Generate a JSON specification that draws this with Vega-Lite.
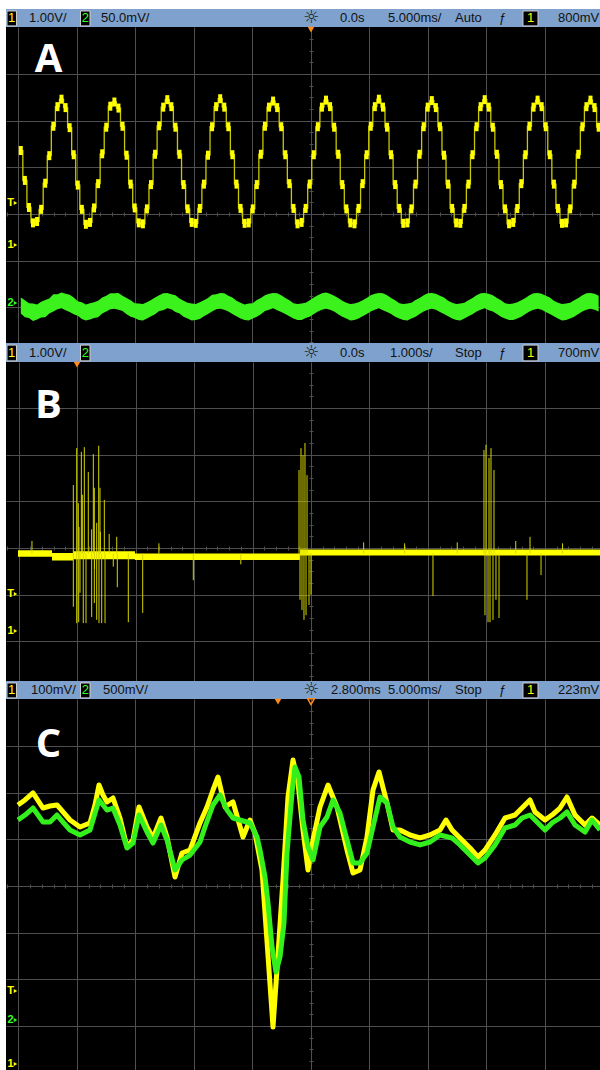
{
"$schema": "https://vega.github.io/schema/vega-lite/v6.json",
"background": "#ffffff",
"padding": {"left": 6, "top": 9, "right": 0, "bottom": 0},
"spacing": 0,
"bounds": "flush",
"config": {
  "view": {"stroke": null},
  "concat": {"spacing": 0},
  "font": "Liberation Sans",
  "axis": {"title": null, "labels": false, "ticks": false, "domain": false, "grid": false, "gridColor": "#4f4f4f", "tickColor": "#4f4f4f", "gridWidth": 1}
},
"datasets": {
  "hdr": [
    {"p":"A","x":0.188,"s":"1.00V/"},{"p":"A","x":1.419,"s":"50.0mV/"},{"p":"A","x":5.504,"s":"0.0s"},{"p":"A","x":6.325,"s":"5.000ms/"},{"p":"A","x":7.470,"s":"Auto"},{"p":"A","x":8.222,"s":"ƒ"},{"p":"A","x":9.231,"s":"800mV"},
    {"p":"B","x":0.188,"s":"1.00V/"},{"p":"B","x":5.504,"s":"0.0s"},{"p":"B","x":6.359,"s":"1.000s/"},{"p":"B","x":7.470,"s":"Stop"},{"p":"B","x":8.222,"s":"ƒ"},{"p":"B","x":9.231,"s":"700mV"},
    {"p":"C","x":0.222,"s":"100mV/"},{"p":"C","x":1.453,"s":"500mV/"},{"p":"C","x":5.35,"s":"2.800ms"},{"p":"C","x":6.325,"s":"5.000ms/"},{"p":"C","x":7.470,"s":"Stop"},{"p":"C","x":8.222,"s":"ƒ"},{"p":"C","x":9.231,"s":"223mV"}
  ],
  "box": [{"x1":-0.188,"x2":-0.026,"y1":0.06,"y2":0.89},{"x1":1.068,"x2":1.231,"y1":0.06,"y2":0.89},{"x1":8.632,"x2":8.889,"y1":0.06,"y2":0.89}],
  "hdig": [{"x":-0.107,"s":"1","c":"y"},{"x":1.150,"s":"2","c":"g"},{"x":8.761,"s":"1","c":"y"}],
  "hsun": [{"x":5.009,"s":"☼"}],
  "lbl": [{"p":"A","t":-22.436,"y":3.043,"s":"A"},{"p":"B","t":-4.487,"y":2.786,"s":"B"},{"p":"C","t":-19.636,"y":2.764,"s":"C"}],
  "mk": [
    {"p":"A","t":-25.684,"tt":-25.256,"y":0.236,"s":"T","c":"y"},{"p":"A","t":-25.684,"tt":-25.256,"y":-0.664,"s":"1","c":"y"},{"p":"A","t":-25.684,"tt":-25.256,"y":-1.907,"s":"2","c":"g"},
    {"p":"B","t":-5.137,"tt":-5.051,"y":-0.986,"s":"T","c":"y"},{"p":"B","t":-5.137,"tt":-5.051,"y":-1.778,"s":"1","c":"y"},
    {"p":"C","t":-22.884,"tt":-22.456,"y":-2.250,"s":"T","c":"y"},{"p":"C","t":-22.884,"tt":-22.456,"y":-2.871,"s":"2","c":"g"},{"p":"C","t":-22.884,"tt":-22.456,"y":-3.814,"s":"1","c":"y"}
  ],
  "trig": [{"p":"A","t":0,"y":3.95,"f":"y"},{"p":"B","t":-4.0,"y":3.93,"f":"y"},{"p":"C","t":-0.02,"y":3.95,"f":"y"},{"p":"C","t":2.8,"y":3.95,"f":"n"}],
  "a": [
    {"t":-24.803,"y1":1.36,"l2":-2.13,"h2":-1.79},{"t":-24.455,"y1":0.72,"l2":-2.21,"h2":-1.85},{"t":-24.107,"y1":0.14,"l2":-2.23,"h2":-1.91},{"t":-23.759,"y1":-0.19,"l2":-2.29,"h2":-1.92},{"t":-23.411,"y1":-0.16,"l2":-2.26,"h2":-1.94},{"t":-23.064,"y1":0.10,"l2":-2.22,"h2":-1.88},{"t":-22.716,"y1":0.66,"l2":-2.21,"h2":-1.84},{"t":-22.368,"y1":1.25,"l2":-2.13,"h2":-1.81},{"t":-22.020,"y1":1.88,"l2":-2.09,"h2":-1.72},{"t":-21.672,"y1":2.30,"l2":-2.04,"h2":-1.72},
    {"t":-21.325,"y1":2.46,"l2":-2.02,"h2":-1.68},{"t":-20.977,"y1":2.28,"l2":-2.06,"h2":-1.71},{"t":-20.629,"y1":1.85,"l2":-2.10,"h2":-1.73},{"t":-20.282,"y1":1.27,"l2":-2.15,"h2":-1.79},{"t":-19.934,"y1":0.62,"l2":-2.18,"h2":-1.87},{"t":-19.586,"y1":0.10,"l2":-2.25,"h2":-1.89},{"t":-19.238,"y1":-0.22,"l2":-2.28,"h2":-1.94},{"t":-18.890,"y1":-0.18,"l2":-2.26,"h2":-1.91},{"t":-18.543,"y1":0.13,"l2":-2.23,"h2":-1.89},{"t":-18.195,"y1":0.65,"l2":-2.21,"h2":-1.86},{"t":-17.847,"y1":1.29,"l2":-2.13,"h2":-1.79},{"t":-17.499,"y1":1.86,"l2":-2.09,"h2":-1.75},{"t":-17.151,"y1":2.31,"l2":-2.04,"h2":-1.70},
    {"t":-16.804,"y1":2.40,"l2":-2.03,"h2":-1.70},{"t":-16.456,"y1":2.27,"l2":-2.05,"h2":-1.69},{"t":-16.108,"y1":1.88,"l2":-2.08,"h2":-1.75},{"t":-15.761,"y1":1.26,"l2":-2.15,"h2":-1.80},{"t":-15.413,"y1":0.64,"l2":-2.20,"h2":-1.85},{"t":-15.065,"y1":0.13,"l2":-2.23,"h2":-1.91},{"t":-14.717,"y1":-0.19,"l2":-2.27,"h2":-1.92},{"t":-14.369,"y1":-0.21,"l2":-2.28,"h2":-1.93},{"t":-14.022,"y1":0.11,"l2":-2.24,"h2":-1.89},{"t":-13.674,"y1":0.63,"l2":-2.19,"h2":-1.84},{"t":-13.326,"y1":1.28,"l2":-2.15,"h2":-1.79},{"t":-12.978,"y1":1.89,"l2":-2.08,"h2":-1.74},{"t":-12.630,"y1":2.29,"l2":-2.06,"h2":-1.70},
    {"t":-12.282,"y1":2.45,"l2":-2.02,"h2":-1.69},{"t":-11.934,"y1":2.30,"l2":-2.04,"h2":-1.72},{"t":-11.586,"y1":1.86,"l2":-2.10,"h2":-1.74},{"t":-11.239,"y1":1.28,"l2":-2.13,"h2":-1.81},{"t":-10.891,"y1":0.63,"l2":-2.20,"h2":-1.86},{"t":-10.543,"y1":0.11,"l2":-2.24,"h2":-1.90},{"t":-10.195,"y1":-0.18,"l2":-2.28,"h2":-1.92},{"t":-9.847,"y1":-0.20,"l2":-2.27,"h2":-1.93},{"t":-9.500,"y1":0.12,"l2":-2.25,"h2":-1.89},{"t":-9.152,"y1":0.64,"l2":-2.19,"h2":-1.85},{"t":-8.804,"y1":1.26,"l2":-2.14,"h2":-1.80},{"t":-8.456,"y1":1.87,"l2":-2.09,"h2":-1.73},{"t":-8.108,"y1":2.30,"l2":-2.04,"h2":-1.72},
    {"t":-7.761,"y1":2.47,"l2":-2.03,"h2":-1.69},{"t":-7.413,"y1":2.29,"l2":-2.05,"h2":-1.70},{"t":-7.065,"y1":1.87,"l2":-2.09,"h2":-1.75},{"t":-6.718,"y1":1.27,"l2":-2.14,"h2":-1.79},{"t":-6.370,"y1":0.64,"l2":-2.19,"h2":-1.86},{"t":-6.022,"y1":0.12,"l2":-2.24,"h2":-1.90},{"t":-5.674,"y1":-0.20,"l2":-2.27,"h2":-1.94},{"t":-5.326,"y1":-0.19,"l2":-2.28,"h2":-1.92},{"t":-4.979,"y1":0.11,"l2":-2.24,"h2":-1.91},{"t":-4.631,"y1":0.63,"l2":-2.20,"h2":-1.84},{"t":-4.283,"y1":1.28,"l2":-2.15,"h2":-1.80},{"t":-3.935,"y1":1.88,"l2":-2.08,"h2":-1.74},{"t":-3.587,"y1":2.29,"l2":-2.05,"h2":-1.71},
    {"t":-3.239,"y1":2.42,"l2":-2.02,"h2":-1.69},{"t":-2.891,"y1":2.28,"l2":-2.06,"h2":-1.70},{"t":-2.543,"y1":1.87,"l2":-2.10,"h2":-1.74},{"t":-2.196,"y1":1.27,"l2":-2.14,"h2":-1.80},{"t":-1.848,"y1":0.65,"l2":-2.19,"h2":-1.85},{"t":-1.500,"y1":0.12,"l2":-2.24,"h2":-1.91},{"t":-1.152,"y1":-0.21,"l2":-2.27,"h2":-1.93},{"t":-0.804,"y1":-0.18,"l2":-2.27,"h2":-1.92},{"t":-0.457,"y1":0.12,"l2":-2.23,"h2":-1.90},{"t":-0.109,"y1":0.64,"l2":-2.20,"h2":-1.85},{"t":0.239,"y1":1.27,"l2":-2.14,"h2":-1.79},{"t":0.587,"y1":1.87,"l2":-2.09,"h2":-1.74},{"t":0.935,"y1":2.29,"l2":-2.05,"h2":-1.70},
    {"t":1.282,"y1":2.44,"l2":-2.03,"h2":-1.68},{"t":1.630,"y1":2.30,"l2":-2.05,"h2":-1.71},{"t":1.978,"y1":1.86,"l2":-2.09,"h2":-1.75},{"t":2.325,"y1":1.28,"l2":-2.15,"h2":-1.80},{"t":2.673,"y1":0.63,"l2":-2.20,"h2":-1.86},{"t":3.021,"y1":0.11,"l2":-2.24,"h2":-1.90},{"t":3.369,"y1":-0.19,"l2":-2.28,"h2":-1.93},{"t":3.717,"y1":-0.21,"l2":-2.27,"h2":-1.92},{"t":4.064,"y1":0.12,"l2":-2.24,"h2":-1.89},{"t":4.412,"y1":0.65,"l2":-2.19,"h2":-1.85},{"t":4.760,"y1":1.27,"l2":-2.14,"h2":-1.80},{"t":5.108,"y1":1.88,"l2":-2.09,"h2":-1.74},{"t":5.456,"y1":2.30,"l2":-2.05,"h2":-1.71},
    {"t":5.803,"y1":2.46,"l2":-2.02,"h2":-1.69},{"t":6.151,"y1":2.29,"l2":-2.06,"h2":-1.70},{"t":6.499,"y1":1.86,"l2":-2.10,"h2":-1.74},{"t":6.846,"y1":1.27,"l2":-2.14,"h2":-1.80},{"t":7.194,"y1":0.63,"l2":-2.20,"h2":-1.85},{"t":7.542,"y1":0.12,"l2":-2.24,"h2":-1.91},{"t":7.890,"y1":-0.20,"l2":-2.27,"h2":-1.93},{"t":8.238,"y1":-0.19,"l2":-2.28,"h2":-1.92},{"t":8.585,"y1":0.11,"l2":-2.24,"h2":-1.90},{"t":8.933,"y1":0.64,"l2":-2.20,"h2":-1.84},{"t":9.281,"y1":1.28,"l2":-2.14,"h2":-1.80},{"t":9.629,"y1":1.87,"l2":-2.09,"h2":-1.74},{"t":9.977,"y1":2.29,"l2":-2.05,"h2":-1.70},
    {"t":10.325,"y1":2.43,"l2":-2.03,"h2":-1.69},{"t":10.673,"y1":2.28,"l2":-2.05,"h2":-1.71},{"t":11.021,"y1":1.87,"l2":-2.10,"h2":-1.75},{"t":11.368,"y1":1.26,"l2":-2.14,"h2":-1.79},{"t":11.716,"y1":0.64,"l2":-2.19,"h2":-1.86},{"t":12.064,"y1":0.12,"l2":-2.24,"h2":-1.90},{"t":12.412,"y1":-0.19,"l2":-2.27,"h2":-1.93},{"t":12.760,"y1":-0.20,"l2":-2.28,"h2":-1.92},{"t":13.107,"y1":0.12,"l2":-2.24,"h2":-1.90},{"t":13.455,"y1":0.64,"l2":-2.19,"h2":-1.85},{"t":13.803,"y1":1.27,"l2":-2.15,"h2":-1.80},{"t":14.151,"y1":1.87,"l2":-2.09,"h2":-1.74},{"t":14.499,"y1":2.30,"l2":-2.05,"h2":-1.70},
    {"t":14.846,"y1":2.45,"l2":-2.02,"h2":-1.69},{"t":15.194,"y1":2.29,"l2":-2.06,"h2":-1.71},{"t":15.542,"y1":1.86,"l2":-2.09,"h2":-1.74},{"t":15.889,"y1":1.28,"l2":-2.14,"h2":-1.80},{"t":16.237,"y1":0.63,"l2":-2.20,"h2":-1.85},{"t":16.585,"y1":0.11,"l2":-2.24,"h2":-1.91},{"t":16.933,"y1":-0.21,"l2":-2.27,"h2":-1.93},{"t":17.281,"y1":-0.18,"l2":-2.27,"h2":-1.92},{"t":17.628,"y1":0.12,"l2":-2.24,"h2":-1.89},{"t":17.976,"y1":0.65,"l2":-2.20,"h2":-1.85},{"t":18.324,"y1":1.27,"l2":-2.14,"h2":-1.80},{"t":18.672,"y1":1.88,"l2":-2.09,"h2":-1.74},{"t":19.020,"y1":2.29,"l2":-2.05,"h2":-1.70},
    {"t":19.368,"y1":2.44,"l2":-2.03,"h2":-1.69},{"t":19.716,"y1":2.30,"l2":-2.05,"h2":-1.71},{"t":20.064,"y1":1.87,"l2":-2.10,"h2":-1.75},{"t":20.411,"y1":1.27,"l2":-2.14,"h2":-1.79},{"t":20.759,"y1":0.64,"l2":-2.19,"h2":-1.86},{"t":21.107,"y1":0.12,"l2":-2.24,"h2":-1.90},{"t":21.455,"y1":-0.20,"l2":-2.28,"h2":-1.93},{"t":21.803,"y1":-0.19,"l2":-2.27,"h2":-1.92},{"t":22.150,"y1":0.11,"l2":-2.24,"h2":-1.90},{"t":22.498,"y1":0.64,"l2":-2.20,"h2":-1.85},{"t":22.846,"y1":1.28,"l2":-2.14,"h2":-1.80},{"t":23.194,"y1":1.87,"l2":-2.09,"h2":-1.74},{"t":23.542,"y1":2.30,"l2":-2.05,"h2":-1.70},
    {"t":23.889,"y1":2.44,"l2":-2.03,"h2":-1.69},{"t":24.237,"y1":2.28,"l2":-2.05,"h2":-1.71},{"t":24.585,"y1":1.86,"l2":-2.09,"h2":-1.75}
  ],
  "bbase": [
    {"t":-5.009,"lo":-0.19,"hi":-0.05},{"t":-4.427,"lo":-0.27,"hi":-0.11},{"t":-4.068,"lo":-0.24,"hi":-0.07},{"t":-3.009,"lo":-0.26,"hi":-0.12},{"t":-0.188,"lo":-0.16,"hi":-0.03},{"t":4.940,"lo":-0.16,"hi":-0.03}
  ],
  "bsp": [
    {"t":-4.063,"tip":1.35},{"t":-4.005,"tip":2.14},{"t":-3.978,"tip":0.96},{"t":-3.926,"tip":2.06},{"t":-3.909,"tip":1.14},{"t":-3.875,"tip":2.16},{"t":-3.807,"tip":1.63},{"t":-3.721,"tip":2.01},{"t":-3.704,"tip":1.29},{"t":-3.629,"tip":2.19},{"t":-3.607,"tip":1.29},{"t":-3.533,"tip":1.03},{"t":-3.663,"tip":0.54},{"t":-3.966,"tip":0.45},{"t":-3.321,"tip":0.24},
    {"t":-4.063,"tip":-1.26},{"t":-4.005,"tip":-1.61},{"t":-3.971,"tip":-1.59},{"t":-3.949,"tip":-0.96},{"t":-3.893,"tip":-1.61},{"t":-3.846,"tip":-1.61},{"t":-3.749,"tip":-1.48},{"t":-3.704,"tip":-1.18},{"t":-3.663,"tip":-1.54},{"t":-3.624,"tip":-1.61},{"t":-3.578,"tip":-1.61},{"t":-3.521,"tip":-1.61},{"t":-3.311,"tip":-0.84},{"t":-3.123,"tip":-1.59},{"t":-2.877,"tip":-1.39},{"t":-2.012,"tip":-0.69},
    {"t":-3.75,"tip":0.40},{"t":-3.60,"tip":0.35},{"t":-3.45,"tip":0.30},{"t":-3.38,"tip":-0.40},{"t":-3.70,"tip":-0.45},
    {"t":-0.205,"tip":1.67},{"t":-0.171,"tip":2.14},{"t":-0.137,"tip":1.99},{"t":-0.103,"tip":2.25},{"t":-0.068,"tip":1.56},
    {"t":-0.188,"tip":-1.11},{"t":-0.154,"tip":-1.33},{"t":-0.120,"tip":-1.54},{"t":-0.085,"tip":-1.44},{"t":-0.034,"tip":-1.22},{"t":0.0,"tip":-1.00},
    {"t":2.957,"tip":2.10},{"t":2.991,"tip":2.21},{"t":3.043,"tip":1.93},{"t":3.077,"tip":2.14},{"t":3.128,"tip":1.67},
    {"t":2.974,"tip":-1.44},{"t":3.026,"tip":-1.59},{"t":3.060,"tip":-1.59},{"t":3.111,"tip":-1.54},{"t":3.162,"tip":-1.11},{"t":3.214,"tip":-1.50},
    {"t":2.085,"tip":-1.03},{"t":3.692,"tip":-1.11},{"t":3.744,"tip":0.24},{"t":3.932,"tip":-0.58},
    {"t":-4.77,"tip":0.15},{"t":-2.6,"tip":0.10},{"t":-1.2,"tip":-0.35},{"t":0.9,"tip":0.12},{"t":1.6,"tip":0.10},{"t":2.5,"tip":0.12},{"t":3.5,"tip":0.15},{"t":4.3,"tip":0.10}
  ],
  "c1": [
    {"t":-22.243,"v":1.736},{"t":-21.644,"v":1.843},{"t":-20.961,"v":1.993},{"t":-20.106,"v":1.671},{"t":-19.508,"v":1.714},{"t":-18.909,"v":1.736},{"t":-18.397,"v":1.586},{"t":-17.798,"v":1.414},{"t":-16.944,"v":1.264},{"t":-16.089,"v":1.350},{"t":-15.662,"v":1.736},{"t":-15.320,"v":2.164},{"t":-14.978,"v":1.950},{"t":-14.636,"v":1.800},{"t":-14.123,"v":1.886},{"t":-13.525,"v":1.457},{"t":-12.926,"v":0.836},{"t":-12.414,"v":0.986},{"t":-11.901,"v":1.693},{"t":-11.217,"v":1.264},{"t":-10.704,"v":1.029},{"t":-10.021,"v":1.457},{"t":-9.508,"v":1.050},{"t":-8.824,"v":0.193},{"t":-8.226,"v":0.707},{"t":-7.542,"v":0.771},{"t":-6.687,"v":1.350},{"t":-6.089,"v":1.693},{"t":-5.576,"v":2.057},{"t":-5.149,"v":2.336},{"t":-4.550,"v":1.693},{"t":-3.867,"v":1.800},{"t":-3.012,"v":1.050},{"t":-2.414,"v":1.414},{"t":-1.986,"v":1.136},{"t":-1.388,"v":0.343},{"t":-0.961,"v":-1.178},{"t":-0.704,"v":-2.100},{"t":-0.448,"v":-3.021},{"t":-0.021,"v":-1.478},{"t":0.407,"v":0.129},{"t":0.834,"v":1.907},{"t":1.262,"v":2.700},{"t":1.689,"v":2.207},{"t":2.116,"v":1.200},{"t":2.544,"v":0.343},{"t":2.971,"v":0.986},{"t":3.569,"v":1.693},{"t":4.253,"v":2.164},{"t":5.022,"v":1.693},{"t":5.877,"v":0.771},{"t":6.390,"v":0.279},{"t":6.988,"v":0.343},{"t":7.586,"v":1.050},{"t":8.099,"v":2.057},{"t":8.612,"v":2.443},{"t":9.296,"v":1.778},{"t":9.809,"v":1.200},{"t":10.407,"v":1.200},{"t":11.262,"v":1.093},{"t":12.116,"v":1.029},{"t":12.971,"v":1.093},{"t":13.826,"v":1.200},{"t":14.338,"v":1.414},{"t":14.851,"v":1.200},{"t":15.535,"v":1.029},{"t":16.390,"v":0.814},{"t":17.074,"v":0.621},{"t":17.672,"v":0.771},{"t":18.526,"v":1.093},{"t":19.381,"v":1.457},{"t":20.236,"v":1.521},{"t":20.834,"v":1.671},{"t":21.518,"v":1.843},{"t":21.945,"v":1.586},{"t":22.800,"v":1.414},{"t":23.398,"v":1.521},{"t":24.082,"v":1.671},{"t":24.680,"v":1.907},{"t":25.364,"v":1.521},{"t":26.219,"v":1.307},{"t":26.817,"v":1.457},{"t":27.501,"v":1.307}
  ],
  "c2": [
    {"t":-22.243,"v":1.414},{"t":-21.644,"v":1.521},{"t":-20.961,"v":1.671},{"t":-20.106,"v":1.371},{"t":-19.508,"v":1.371},{"t":-18.909,"v":1.521},{"t":-18.397,"v":1.371},{"t":-17.798,"v":1.200},{"t":-16.944,"v":1.093},{"t":-16.089,"v":1.200},{"t":-15.320,"v":1.843},{"t":-14.636,"v":1.628},{"t":-14.123,"v":1.671},{"t":-13.525,"v":1.307},{"t":-12.926,"v":0.814},{"t":-12.414,"v":0.921},{"t":-11.901,"v":1.521},{"t":-11.217,"v":1.157},{"t":-10.704,"v":0.921},{"t":-10.021,"v":1.307},{"t":-9.508,"v":0.986},{"t":-8.824,"v":0.343},{"t":-8.226,"v":0.557},{"t":-7.542,"v":0.664},{"t":-6.687,"v":0.943},{"t":-6.260,"v":1.264},{"t":-5.576,"v":1.736},{"t":-4.978,"v":1.950},{"t":-4.379,"v":1.628},{"t":-3.867,"v":1.457},{"t":-2.414,"v":1.350},{"t":-1.815,"v":1.050},{"t":-1.559,"v":0.771},{"t":-1.132,"v":0.193},{"t":-0.875,"v":-0.364},{"t":-0.533,"v":-1.307},{"t":-0.191,"v":-1.843},{"t":0.150,"v":-1.521},{"t":0.492,"v":-0.793},{"t":0.749,"v":0.707},{"t":1.176,"v":1.993},{"t":1.432,"v":2.550},{"t":1.774,"v":2.336},{"t":2.116,"v":1.414},{"t":2.544,"v":0.836},{"t":2.971,"v":0.557},{"t":3.569,"v":1.264},{"t":4.168,"v":1.478},{"t":4.680,"v":1.843},{"t":5.279,"v":1.564},{"t":5.877,"v":0.986},{"t":6.390,"v":0.493},{"t":6.988,"v":0.493},{"t":7.586,"v":0.707},{"t":8.099,"v":1.264},{"t":8.697,"v":1.907},{"t":9.296,"v":1.778},{"t":9.809,"v":1.264},{"t":10.407,"v":1.050},{"t":11.262,"v":0.943},{"t":12.116,"v":0.879},{"t":12.971,"v":0.943},{"t":13.826,"v":1.093},{"t":14.851,"v":1.029},{"t":15.535,"v":0.879},{"t":16.390,"v":0.664},{"t":17.074,"v":0.493},{"t":17.672,"v":0.600},{"t":18.526,"v":0.879},{"t":19.381,"v":1.243},{"t":20.236,"v":1.307},{"t":20.834,"v":1.457},{"t":21.518,"v":1.521},{"t":21.945,"v":1.414},{"t":22.800,"v":1.200},{"t":23.398,"v":1.350},{"t":24.082,"v":1.457},{"t":24.680,"v":1.586},{"t":25.364,"v":1.307},{"t":26.219,"v":1.157},{"t":26.817,"v":1.414},{"t":27.501,"v":1.200}
  ]
},
"vconcat": [
  {
    "width": 594, "height": 18, "view": {"fill": "#7ea1cd"},
    "layer": [
      {"data": {"name": "box"}, "mark": {"type": "rect", "fill": "#000000", "stroke": "#d0d0d0", "strokeWidth": 1},
       "encoding": {"x": {"field": "x1", "type": "quantitative", "scale": {"domain": [-0.205, 9.949], "nice": false, "zero": false}, "axis": null}, "x2": {"field": "x2"}, "y": {"field": "y1", "type": "quantitative", "scale": {"domain": [0, 1], "nice": false, "zero": false}, "axis": null}, "y2": {"field": "y2"}}},
      {"data": {"name": "hdig"}, "mark": {"type": "text", "align": "center", "baseline": "middle", "fontSize": 13},
       "encoding": {"x": {"field": "x", "type": "quantitative", "scale": {"domain": [-0.205, 9.949], "nice": false, "zero": false}, "axis": null}, "y": {"datum": 0.5, "type": "quantitative", "scale": {"domain": [0, 1], "nice": false, "zero": false}, "axis": null}, "text": {"field": "s"}, "color": {"field": "c", "type": "nominal", "scale": {"domain": ["y", "g"], "range": ["#ffff00", "#33ff22"]}, "legend": null}}},
      {"data": {"name": "hdr"}, "transform": [{"filter": {"field": "p", "equal": "A"}}], "mark": {"type": "text", "align": "left", "baseline": "middle", "fontSize": 13, "color": "#111111"},
       "encoding": {"x": {"field": "x", "type": "quantitative", "scale": {"domain": [-0.205, 9.949], "nice": false, "zero": false}, "axis": null}, "y": {"datum": 0.5, "type": "quantitative", "scale": {"domain": [0, 1], "nice": false, "zero": false}, "axis": null}, "text": {"field": "s"}}},
      {"data": {"name": "hsun"}, "mark": {"type": "text", "align": "center", "baseline": "middle", "fontSize": 18, "font": "DejaVu Sans", "color": "#222222"},
       "encoding": {"x": {"field": "x", "type": "quantitative", "scale": {"domain": [-0.205, 9.949], "nice": false, "zero": false}, "axis": null}, "y": {"datum": 0.5, "type": "quantitative", "scale": {"domain": [0, 1], "nice": false, "zero": false}, "axis": null}, "text": {"field": "s"}}}
    ]
  },
  {
    "width": 594, "height": 316, "view": {"fill": "#000000"},
    "resolve": {"axis": {"x": "independent", "y": "independent"}},
    "layer": [
      {"data": {"name": "a"}, "mark": {"type": "area", "color": "#3cf21c", "clip": true},
       "encoding": {
         "x": {"field": "t", "type": "quantitative", "scale": {"domain": [-26.068, 24.701], "nice": false, "zero": false}, "axis": {"orient": "bottom", "grid": true, "values": [-25, -20, -15, -10, -5, 0, 5, 10, 15, 20]}},
         "y": {"field": "l2", "type": "quantitative", "scale": {"domain": [-2.764, 4.007], "nice": false, "zero": false}, "axis": {"orient": "left", "grid": true, "values": [-2, -1, 0, 1, 2, 3]}},
         "y2": {"field": "h2"}}},
      {"data": {"name": "a"}, "mark": {"type": "line", "color": "#c8c800", "strokeWidth": 1.3, "interpolate": "step", "clip": true},
       "encoding": {
         "x": {"field": "t", "type": "quantitative", "scale": {"domain": [-26.068, 24.701], "nice": false, "zero": false}, "axis": null},
         "y": {"field": "y1", "type": "quantitative", "scale": {"domain": [-2.764, 4.007], "nice": false, "zero": false}, "axis": null}}},
      {"data": {"name": "a"}, "mark": {"type": "tick", "orient": "vertical", "color": "#ffff00", "size": 9, "thickness": 4, "opacity": 1, "clip": true},
       "encoding": {
         "x": {"field": "t", "type": "quantitative", "scale": {"domain": [-26.068, 24.701], "nice": false, "zero": false}, "axis": {"orient": "bottom", "offset": -131, "ticks": true, "tickSize": 4, "values": [-26,-25,-24,-23,-22,-21,-20,-19,-18,-17,-16,-15,-14,-13,-12,-11,-10,-9,-8,-7,-6,-5,-4,-3,-2,-1,0,1,2,3,4,5,6,7,8,9,10,11,12,13,14,15,16,17,18,19,20,21,22,23,24]}},
         "y": {"field": "y1", "type": "quantitative", "scale": {"domain": [-2.764, 4.007], "nice": false, "zero": false}, "axis": {"orient": "left", "offset": -307, "ticks": true, "tickSize": 4, "values": [-2.75,-2.5,-2.25,-2,-1.75,-1.5,-1.25,-1,-0.75,-0.5,-0.25,0,0.25,0.5,0.75,1,1.25,1.5,1.75,2,2.25,2.5,2.75,3,3.25,3.5,3.75]}}}},
      {"data": {"name": "lbl"}, "transform": [{"filter": {"field": "p", "equal": "A"}}], "mark": {"type": "text", "font": "Open Sans", "fontWeight": "bold", "fontSize": 40, "color": "#ffffff", "align": "center", "baseline": "alphabetic"},
       "encoding": {
         "x": {"field": "t", "type": "quantitative", "scale": {"domain": [-26.068, 24.701], "nice": false, "zero": false}, "axis": null},
         "y": {"field": "y", "type": "quantitative", "scale": {"domain": [-2.764, 4.007], "nice": false, "zero": false}, "axis": null},
         "text": {"field": "s"}}},
      {"data": {"name": "mk"}, "transform": [{"filter": {"field": "p", "equal": "A"}}], "mark": {"type": "text", "fontSize": 11, "fontWeight": "bold", "align": "center", "baseline": "middle"},
       "encoding": {
         "x": {"field": "t", "type": "quantitative", "scale": {"domain": [-26.068, 24.701], "nice": false, "zero": false}, "axis": null},
         "y": {"field": "y", "type": "quantitative", "scale": {"domain": [-2.764, 4.007], "nice": false, "zero": false}, "axis": null},
         "text": {"field": "s"},
         "color": {"field": "c", "type": "nominal", "scale": {"domain": ["y", "g"], "range": ["#ffff00", "#33ff22"]}, "legend": null}}},
      {"data": {"name": "mk"}, "transform": [{"filter": {"field": "p", "equal": "A"}}], "mark": {"type": "point", "shape": "triangle-right", "filled": true, "size": 16, "opacity": 1},
       "encoding": {
         "x": {"field": "tt", "type": "quantitative", "scale": {"domain": [-26.068, 24.701], "nice": false, "zero": false}, "axis": null},
         "y": {"field": "y", "type": "quantitative", "scale": {"domain": [-2.764, 4.007], "nice": false, "zero": false}, "axis": null},
         "color": {"field": "c", "type": "nominal", "scale": {"domain": ["y", "g"], "range": ["#ffff00", "#33ff22"]}, "legend": null}}},
      {"data": {"name": "trig"}, "transform": [{"filter": {"field": "p", "equal": "A"}}], "mark": {"type": "point", "shape": "triangle-down", "filled": true, "size": 45, "color": "#ff8c1a", "opacity": 1},
       "encoding": {
         "x": {"field": "t", "type": "quantitative", "scale": {"domain": [-26.068, 24.701], "nice": false, "zero": false}, "axis": null},
         "y": {"field": "y", "type": "quantitative", "scale": {"domain": [-2.764, 4.007], "nice": false, "zero": false}, "axis": null}}}
    ]
  },
  {
    "width": 594, "height": 19, "view": {"fill": "#7ea1cd"},
    "layer": [
      {"data": {"name": "box"}, "mark": {"type": "rect", "fill": "#000000", "stroke": "#d0d0d0", "strokeWidth": 1},
       "encoding": {"x": {"field": "x1", "type": "quantitative", "scale": {"domain": [-0.205, 9.949], "nice": false, "zero": false}, "axis": null}, "x2": {"field": "x2"}, "y": {"field": "y1", "type": "quantitative", "scale": {"domain": [0, 1], "nice": false, "zero": false}, "axis": null}, "y2": {"field": "y2"}}},
      {"data": {"name": "hdig"}, "mark": {"type": "text", "align": "center", "baseline": "middle", "fontSize": 13},
       "encoding": {"x": {"field": "x", "type": "quantitative", "scale": {"domain": [-0.205, 9.949], "nice": false, "zero": false}, "axis": null}, "y": {"datum": 0.5, "type": "quantitative", "scale": {"domain": [0, 1], "nice": false, "zero": false}, "axis": null}, "text": {"field": "s"}, "color": {"field": "c", "type": "nominal", "scale": {"domain": ["y", "g"], "range": ["#ffff00", "#33ff22"]}, "legend": null}}},
      {"data": {"name": "hdr"}, "transform": [{"filter": {"field": "p", "equal": "B"}}], "mark": {"type": "text", "align": "left", "baseline": "middle", "fontSize": 13, "color": "#111111"},
       "encoding": {"x": {"field": "x", "type": "quantitative", "scale": {"domain": [-0.205, 9.949], "nice": false, "zero": false}, "axis": null}, "y": {"datum": 0.5, "type": "quantitative", "scale": {"domain": [0, 1], "nice": false, "zero": false}, "axis": null}, "text": {"field": "s"}}},
      {"data": {"name": "hsun"}, "mark": {"type": "text", "align": "center", "baseline": "middle", "fontSize": 18, "font": "DejaVu Sans", "color": "#222222"},
       "encoding": {"x": {"field": "x", "type": "quantitative", "scale": {"domain": [-0.205, 9.949], "nice": false, "zero": false}, "axis": null}, "y": {"datum": 0.5, "type": "quantitative", "scale": {"domain": [0, 1], "nice": false, "zero": false}, "axis": null}, "text": {"field": "s"}}}
    ]
  },
  {
    "width": 594, "height": 319, "view": {"fill": "#000000"},
    "resolve": {"axis": {"x": "independent", "y": "independent"}},
    "layer": [
      {"data": {"name": "bbase"}, "mark": {"type": "area", "color": "#ffff00", "interpolate": "step-after", "clip": true},
       "encoding": {
         "x": {"field": "t", "type": "quantitative", "scale": {"domain": [-5.2137, 4.9402], "nice": false, "zero": false}, "axis": {"orient": "bottom", "grid": true, "values": [-5, -4, -3, -2, -1, 0, 1, 2, 3, 4]}},
         "y": {"field": "lo", "type": "quantitative", "scale": {"domain": [-2.850, 3.985], "nice": false, "zero": false}, "axis": {"orient": "left", "grid": true, "values": [-2, -1, 0, 1, 2, 3]}},
         "y2": {"field": "hi"}}},
      {"data": {"name": "bsp"}, "mark": {"type": "rule", "color": "#d6d600", "strokeWidth": 1, "clip": true},
       "encoding": {
         "x": {"field": "t", "type": "quantitative", "scale": {"domain": [-5.2137, 4.9402], "nice": false, "zero": false}, "axis": {"orient": "bottom", "offset": -135, "ticks": true, "tickSize": 4, "values": [-5.2,-5,-4.8,-4.6,-4.4,-4.2,-4,-3.8,-3.6,-3.4,-3.2,-3,-2.8,-2.6,-2.4,-2.2,-2,-1.8,-1.6,-1.4,-1.2,-1,-0.8,-0.6,-0.4,-0.2,0,0.2,0.4,0.6,0.8,1,1.2,1.4,1.6,1.8,2,2.2,2.4,2.6,2.8,3,3.2,3.4,3.6,3.8,4,4.2,4.4,4.6,4.8]}},
         "y": {"field": "tip", "type": "quantitative", "scale": {"domain": [-2.850, 3.985], "nice": false, "zero": false}, "axis": {"orient": "left", "offset": -307, "ticks": true, "tickSize": 4, "values": [-2.75,-2.5,-2.25,-2,-1.75,-1.5,-1.25,-1,-0.75,-0.5,-0.25,0,0.25,0.5,0.75,1,1.25,1.5,1.75,2,2.25,2.5,2.75,3,3.25,3.5,3.75]}},
         "y2": {"datum": -0.12}}},
      {"data": {"name": "lbl"}, "transform": [{"filter": {"field": "p", "equal": "B"}}], "mark": {"type": "text", "font": "Open Sans", "fontWeight": "bold", "fontSize": 40, "color": "#ffffff", "align": "center", "baseline": "alphabetic"},
       "encoding": {
         "x": {"field": "t", "type": "quantitative", "scale": {"domain": [-5.2137, 4.9402], "nice": false, "zero": false}, "axis": null},
         "y": {"field": "y", "type": "quantitative", "scale": {"domain": [-2.850, 3.985], "nice": false, "zero": false}, "axis": null},
         "text": {"field": "s"}}},
      {"data": {"name": "mk"}, "transform": [{"filter": {"field": "p", "equal": "B"}}], "mark": {"type": "text", "fontSize": 11, "fontWeight": "bold", "align": "center", "baseline": "middle"},
       "encoding": {
         "x": {"field": "t", "type": "quantitative", "scale": {"domain": [-5.2137, 4.9402], "nice": false, "zero": false}, "axis": null},
         "y": {"field": "y", "type": "quantitative", "scale": {"domain": [-2.850, 3.985], "nice": false, "zero": false}, "axis": null},
         "text": {"field": "s"},
         "color": {"field": "c", "type": "nominal", "scale": {"domain": ["y", "g"], "range": ["#ffff00", "#33ff22"]}, "legend": null}}},
      {"data": {"name": "mk"}, "transform": [{"filter": {"field": "p", "equal": "B"}}], "mark": {"type": "point", "shape": "triangle-right", "filled": true, "size": 16, "opacity": 1},
       "encoding": {
         "x": {"field": "tt", "type": "quantitative", "scale": {"domain": [-5.2137, 4.9402], "nice": false, "zero": false}, "axis": null},
         "y": {"field": "y", "type": "quantitative", "scale": {"domain": [-2.850, 3.985], "nice": false, "zero": false}, "axis": null},
         "color": {"field": "c", "type": "nominal", "scale": {"domain": ["y", "g"], "range": ["#ffff00", "#33ff22"]}, "legend": null}}},
      {"data": {"name": "trig"}, "transform": [{"filter": {"field": "p", "equal": "B"}}], "mark": {"type": "point", "shape": "triangle-down", "filled": true, "size": 45, "color": "#ff8c1a", "opacity": 1},
       "encoding": {
         "x": {"field": "t", "type": "quantitative", "scale": {"domain": [-5.2137, 4.9402], "nice": false, "zero": false}, "axis": null},
         "y": {"field": "y", "type": "quantitative", "scale": {"domain": [-2.850, 3.985], "nice": false, "zero": false}, "axis": null}}}
    ]
  },
  {
    "width": 594, "height": 18, "view": {"fill": "#7ea1cd"},
    "layer": [
      {"data": {"name": "box"}, "mark": {"type": "rect", "fill": "#000000", "stroke": "#d0d0d0", "strokeWidth": 1},
       "encoding": {"x": {"field": "x1", "type": "quantitative", "scale": {"domain": [-0.205, 9.949], "nice": false, "zero": false}, "axis": null}, "x2": {"field": "x2"}, "y": {"field": "y1", "type": "quantitative", "scale": {"domain": [0, 1], "nice": false, "zero": false}, "axis": null}, "y2": {"field": "y2"}}},
      {"data": {"name": "hdig"}, "mark": {"type": "text", "align": "center", "baseline": "middle", "fontSize": 13},
       "encoding": {"x": {"field": "x", "type": "quantitative", "scale": {"domain": [-0.205, 9.949], "nice": false, "zero": false}, "axis": null}, "y": {"datum": 0.5, "type": "quantitative", "scale": {"domain": [0, 1], "nice": false, "zero": false}, "axis": null}, "text": {"field": "s"}, "color": {"field": "c", "type": "nominal", "scale": {"domain": ["y", "g"], "range": ["#ffff00", "#33ff22"]}, "legend": null}}},
      {"data": {"name": "hdr"}, "transform": [{"filter": {"field": "p", "equal": "C"}}], "mark": {"type": "text", "align": "left", "baseline": "middle", "fontSize": 13, "color": "#111111"},
       "encoding": {"x": {"field": "x", "type": "quantitative", "scale": {"domain": [-0.205, 9.949], "nice": false, "zero": false}, "axis": null}, "y": {"datum": 0.5, "type": "quantitative", "scale": {"domain": [0, 1], "nice": false, "zero": false}, "axis": null}, "text": {"field": "s"}}},
      {"data": {"name": "hsun"}, "mark": {"type": "text", "align": "center", "baseline": "middle", "fontSize": 18, "font": "DejaVu Sans", "color": "#222222"},
       "encoding": {"x": {"field": "x", "type": "quantitative", "scale": {"domain": [-0.205, 9.949], "nice": false, "zero": false}, "axis": null}, "y": {"datum": 0.5, "type": "quantitative", "scale": {"domain": [0, 1], "nice": false, "zero": false}, "axis": null}, "text": {"field": "s"}}}
    ]
  },
  {
    "width": 594, "height": 371, "view": {"fill": "#000000"},
    "resolve": {"axis": {"x": "independent", "y": "independent"}},
    "layer": [
      {"data": {"name": "c1"}, "mark": {"type": "line", "color": "#ffff00", "strokeWidth": 5, "strokeJoin": "round", "clip": true},
       "encoding": {
         "x": {"field": "t", "type": "quantitative", "scale": {"domain": [-23.268, 27.501], "nice": false, "zero": false}, "axis": {"orient": "bottom", "grid": true, "values": [-22.2, -17.2, -12.2, -7.2, -2.2, 2.8, 7.8, 12.8, 17.8, 22.8]}},
         "y": {"field": "v", "type": "quantitative", "scale": {"domain": [-3.943, 4.007], "nice": false, "zero": false}, "axis": {"orient": "left", "grid": true, "values": [-3, -2, -1, 0, 1, 2, 3]}}}},
      {"data": {"name": "c2"}, "mark": {"type": "line", "color": "#33f01c", "strokeWidth": 5, "strokeJoin": "round", "clip": true},
       "encoding": {
         "x": {"field": "t", "type": "quantitative", "scale": {"domain": [-23.268, 27.501], "nice": false, "zero": false}, "axis": {"orient": "bottom", "offset": -186, "ticks": true, "tickSize": 4, "values": [-23.2,-22.2,-21.2,-20.2,-19.2,-18.2,-17.2,-16.2,-15.2,-14.2,-13.2,-12.2,-11.2,-10.2,-9.2,-8.2,-7.2,-6.2,-5.2,-4.2,-3.2,-2.2,-1.2,-0.2,0.8,1.8,2.8,3.8,4.8,5.8,6.8,7.8,8.8,9.8,10.8,11.8,12.8,13.8,14.8,15.8,16.8,17.8,18.8,19.8,20.8,21.8,22.8,23.8,24.8,25.8,26.8]}},
         "y": {"field": "v", "type": "quantitative", "scale": {"domain": [-3.943, 4.007], "nice": false, "zero": false}, "axis": {"orient": "left", "offset": -307, "ticks": true, "tickSize": 4, "values": [-3.75,-3.5,-3.25,-3,-2.75,-2.5,-2.25,-2,-1.75,-1.5,-1.25,-1,-0.75,-0.5,-0.25,0,0.25,0.5,0.75,1,1.25,1.5,1.75,2,2.25,2.5,2.75,3,3.25,3.5,3.75]}}}},
      {"data": {"name": "lbl"}, "transform": [{"filter": {"field": "p", "equal": "C"}}], "mark": {"type": "text", "font": "Open Sans", "fontWeight": "bold", "fontSize": 40, "color": "#ffffff", "align": "center", "baseline": "alphabetic"},
       "encoding": {
         "x": {"field": "t", "type": "quantitative", "scale": {"domain": [-23.268, 27.501], "nice": false, "zero": false}, "axis": null},
         "y": {"field": "y", "type": "quantitative", "scale": {"domain": [-3.943, 4.007], "nice": false, "zero": false}, "axis": null},
         "text": {"field": "s"}}},
      {"data": {"name": "mk"}, "transform": [{"filter": {"field": "p", "equal": "C"}}], "mark": {"type": "text", "fontSize": 11, "fontWeight": "bold", "align": "center", "baseline": "middle"},
       "encoding": {
         "x": {"field": "t", "type": "quantitative", "scale": {"domain": [-23.268, 27.501], "nice": false, "zero": false}, "axis": null},
         "y": {"field": "y", "type": "quantitative", "scale": {"domain": [-3.943, 4.007], "nice": false, "zero": false}, "axis": null},
         "text": {"field": "s"},
         "color": {"field": "c", "type": "nominal", "scale": {"domain": ["y", "g"], "range": ["#ffff00", "#33ff22"]}, "legend": null}}},
      {"data": {"name": "mk"}, "transform": [{"filter": {"field": "p", "equal": "C"}}], "mark": {"type": "point", "shape": "triangle-right", "filled": true, "size": 16, "opacity": 1},
       "encoding": {
         "x": {"field": "tt", "type": "quantitative", "scale": {"domain": [-23.268, 27.501], "nice": false, "zero": false}, "axis": null},
         "y": {"field": "y", "type": "quantitative", "scale": {"domain": [-3.943, 4.007], "nice": false, "zero": false}, "axis": null},
         "color": {"field": "c", "type": "nominal", "scale": {"domain": ["y", "g"], "range": ["#ffff00", "#33ff22"]}, "legend": null}}},
      {"data": {"name": "trig"}, "transform": [{"filter": {"field": "p", "equal": "C"}}, {"filter": {"field": "f", "equal": "y"}}], "mark": {"type": "point", "shape": "triangle-down", "filled": true, "size": 45, "color": "#ff8c1a", "opacity": 1},
       "encoding": {
         "x": {"field": "t", "type": "quantitative", "scale": {"domain": [-23.268, 27.501], "nice": false, "zero": false}, "axis": null},
         "y": {"field": "y", "type": "quantitative", "scale": {"domain": [-3.943, 4.007], "nice": false, "zero": false}, "axis": null}}},
      {"data": {"name": "trig"}, "transform": [{"filter": {"field": "p", "equal": "C"}}, {"filter": {"field": "f", "equal": "n"}}], "mark": {"type": "point", "shape": "triangle-down", "filled": false, "size": 45, "color": "#ff8c1a", "strokeWidth": 1.5, "opacity": 1},
       "encoding": {
         "x": {"field": "t", "type": "quantitative", "scale": {"domain": [-23.268, 27.501], "nice": false, "zero": false}, "axis": null},
         "y": {"field": "y", "type": "quantitative", "scale": {"domain": [-3.943, 4.007], "nice": false, "zero": false}, "axis": null}}}
    ]
  }
]
}
